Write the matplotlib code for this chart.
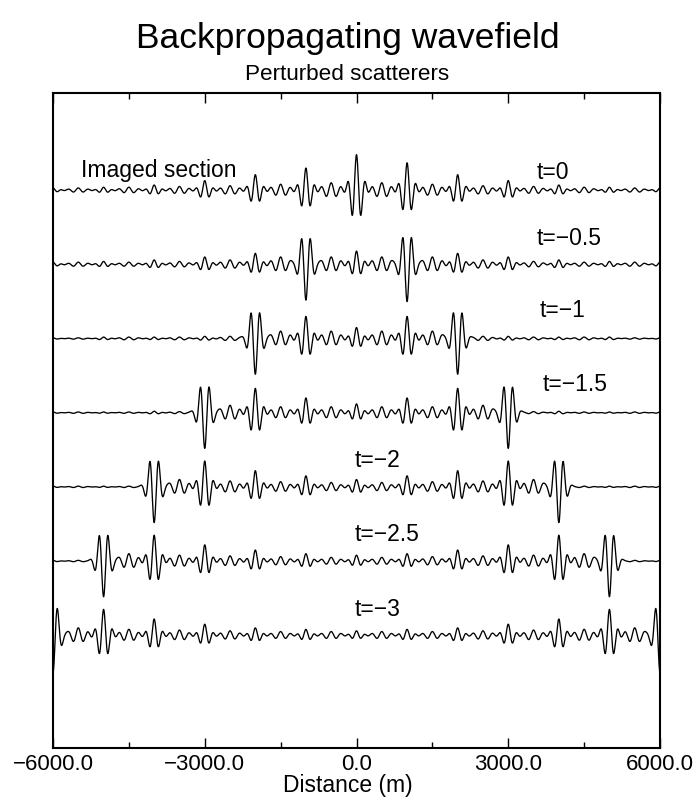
import numpy as np
import matplotlib
matplotlib.use("Agg")
import matplotlib.pyplot as plt
from matplotlib.ticker import MultipleLocator, FuncFormatter

plt.rcParams['font.family'] = ['Liberation Sans', 'DejaVu Sans']

# ---------------- data ----------------
trace_labels = ["t=0", "t=\u22120.5", "t=\u22121", "t=\u22121.5", "t=\u22122", "t=\u22122.5", "t=\u22123"]
label_x = [3567, 3567, 3626, 3685, -30, -30, -30]
label_dy = [0.24, 0.35, 0.38, 0.38, 0.35, 0.36, 0.35]

# main scatterer event positions (m)
event_x = [-6000, -5000, -4000, -3000, -2000, -1000, 0, 1000, 2000, 3000, 4000, 5000, 6000]
# signed event amplitudes (trace-spacing units), one row per trace
amp_t0   = [0.03, 0.04, 0.07, 0.13, 0.21, 0.30, 0.48, 0.37, 0.21, 0.13, 0.07, 0.04, 0.03]
amp_t05  = [0.03, 0.04, 0.06, 0.10, 0.15, -0.48, 0.18, -0.50, 0.15, 0.10, 0.06, 0.04, 0.03]
amp_t10  = [0.01, 0.02, 0.02, 0.03, -0.48, 0.30, 0.15, 0.30, -0.48, 0.03, 0.02, 0.02, 0.01]
amp_t15  = [0.01, 0.01, 0.02, -0.48, 0.33, 0.20, 0.12, 0.20, 0.33, -0.48, 0.02, 0.01, 0.01]
amp_t20  = [0.01, 0.01, -0.48, 0.35, 0.22, 0.15, 0.10, 0.15, 0.22, 0.35, -0.48, 0.01, 0.01]
amp_t25  = [0.01, -0.48, 0.35, 0.22, 0.15, 0.10, 0.08, 0.10, 0.15, 0.22, 0.35, -0.48, 0.01]
amp_t30  = [-0.50, 0.35, 0.22, 0.15, 0.10, 0.08, 0.06, 0.08, 0.10, 0.15, 0.22, 0.35, -0.50]
event_amps = [amp_t0, amp_t05, amp_t10, amp_t15, amp_t20, amp_t25, amp_t30]

# low-level ringing between the scatterer events
ring_x = [-5500, -4500, -3500, -2500, -1500, -500, 500, 1500, 2500, 3500, 4500, 5500]
ring_t0  = [0.03, 0.04, 0.05, 0.06, 0.08, 0.10, 0.10, 0.08, 0.06, 0.05, 0.04, 0.03]
ring_t05 = [0.03, 0.03, 0.04, 0.06, 0.10, 0.10, 0.10, 0.10, 0.06, 0.04, 0.03, 0.03]
ring_t10 = [0.01, 0.02, 0.02, 0.03, 0.10, 0.10, 0.10, 0.10, 0.03, 0.02, 0.02, 0.01]
ring_t15 = [0.01, 0.01, 0.015, 0.10, 0.08, 0.08, 0.08, 0.08, 0.10, 0.015, 0.01, 0.01]
ring_t20 = [0.01, 0.01, 0.10, 0.08, 0.07, 0.06, 0.06, 0.07, 0.08, 0.10, 0.01, 0.01]
ring_t25 = [0.01, 0.10, 0.08, 0.07, 0.06, 0.05, 0.05, 0.06, 0.07, 0.08, 0.10, 0.01]
ring_t30 = [0.10, 0.08, 0.07, 0.06, 0.05, 0.05, 0.05, 0.05, 0.06, 0.07, 0.08, 0.10]
ring_amps = [ring_t0, ring_t05, ring_t10, ring_t15, ring_t20, ring_t25, ring_t30]

# ---------------- drawing ----------------
EVENT_WAVELENGTH, EVENT_WIDTH = 180.0, 150.0
RING_WAVELENGTH, RING_WIDTH = 200.0, 230.0

def wavelet(x, x0, amp, lam, sig):
    u = x - x0
    return amp * np.cos(2 * np.pi * u / lam) * np.exp(-(u / sig) ** 2)

x = np.linspace(-6000, 6000, 6001)

W, H = 695, 799
fig = plt.figure(figsize=(W / 100, H / 100), dpi=100)
ax = fig.add_axes([53 / W, 1 - 748 / H, 607 / W, 655 / H])

for k, (ea, ra) in enumerate(zip(event_amps, ring_amps)):
    y = np.zeros_like(x)
    for x0, a in zip(event_x, ea):
        y += wavelet(x, x0, a, EVENT_WAVELENGTH, EVENT_WIDTH)
    for x0, a in zip(ring_x, ra):
        y += wavelet(x, x0, a, RING_WAVELENGTH, RING_WIDTH)
    ax.plot(x, y - k, color='black', lw=0.95, clip_on=True)
    ax.text(label_x[k], -k + label_dy[k], trace_labels[k], fontsize=16.5,
            ha='left', va='center')

ax.text(-5450, 0.27, "Imaged section", fontsize=16.5, ha='left', va='center')

ax.set_xlim(-6000, 6000)
ax.set_ylim(-7.52, 1.31)
ax.set_yticks([])
ax.xaxis.set_major_locator(MultipleLocator(3000))
ax.xaxis.set_minor_locator(MultipleLocator(1500))
ax.xaxis.set_major_formatter(FuncFormatter(lambda v, p: f"{v:.1f}".replace("-", "\u2212")))
ax.tick_params(axis='x', which='both', direction='in', top=True, bottom=True,
               labelsize=16, pad=4)
ax.tick_params(axis='x', which='major', length=7, width=1)
ax.tick_params(axis='x', which='minor', length=4, width=1)
for s in ax.spines.values():
    s.set_linewidth(1.5)

fig.text(0.5, 1 - 792 / H, "Distance (m)", fontsize=16.5, ha='center', va='baseline')
fig.text(0.5, 1 - 48 / H, "Backpropagating wavefield", fontsize=25.5, ha='center', va='baseline')
fig.text(0.5, 1 - 80 / H, "Perturbed scatterers", fontsize=16.2, ha='center', va='baseline')

fig.savefig("out.png", dpi=100)
